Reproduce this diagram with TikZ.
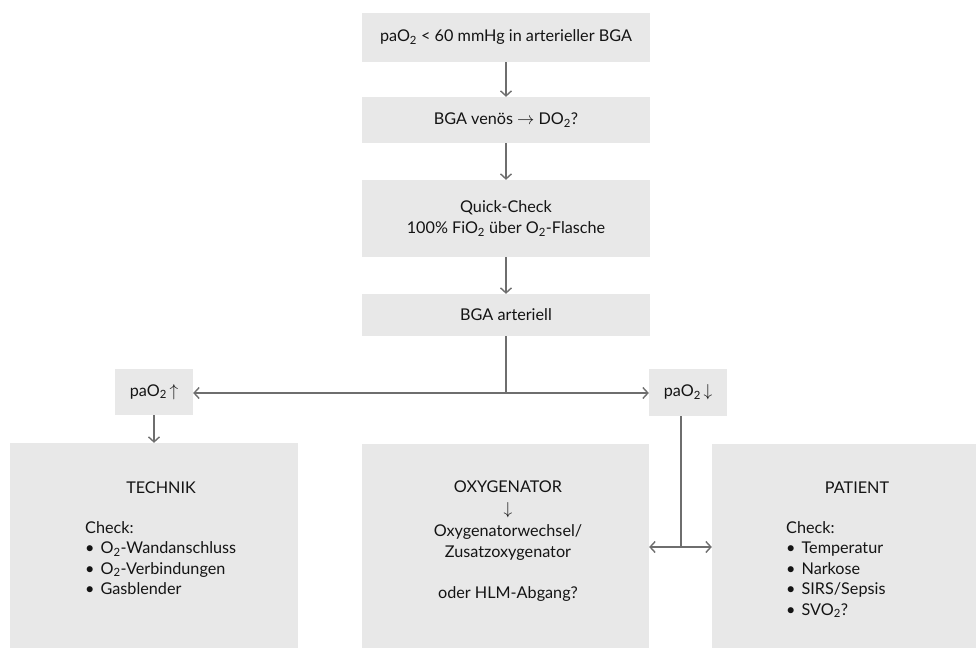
\documentclass[tikz,border=0pt]{standalone}
\usepackage{fontspec}
\setmainfont{Lato}
\usetikzlibrary{arrows.meta}
\definecolor{boxgray}{HTML}{E8E8E8}
\definecolor{linegray}{HTML}{6E6E6E}
\definecolor{txtgray}{HTML}{141414}
\newcommand{\lowtwo}{\textsubscript{2}}
\begin{document}
\begin{tikzpicture}[x=1pt,y=-1pt,
  box/.style={fill=boxgray, draw=none, inner sep=0pt, text=txtgray, align=center,
    font=\fontsize{16.2}{20.5}\selectfont},
  lbl/.style={inner sep=0pt, text=txtgray, font=\fontsize{16.2}{20.5}\selectfont},
  conn/.style={draw=linegray, line width=1.4pt, -{Straight Barb[length=5pt,width=11pt]}},
  plainline/.style={draw=linegray, line width=1.4pt}
]
\useasboundingbox (0,0) rectangle (976,648);

\node[box, minimum width=288pt, minimum height=49pt] (b1) at (506,37.5)
  {paO\lowtwo{} < 60 mmHg in arterieller BGA};
\node[box, minimum width=288pt, minimum height=46pt] (b2) at (506,120)
  {BGA venös $\rightarrow$ DO\lowtwo?};
\node[box, minimum width=288pt, minimum height=77pt] (b3) at (506,218.5)
  {Quick-Check\\100\% FiO\lowtwo{} über O\lowtwo-Flasche};
\node[box, minimum width=288pt, minimum height=42pt] (b4) at (506,315)
  {BGA arteriell};

\node[box, minimum width=78pt, minimum height=46pt] (up) at (154,392)
  {paO\lowtwo{}\,$\uparrow$};
\node[box, minimum width=78pt, minimum height=47pt] (down) at (688,392.5)
  {paO\lowtwo{}\,$\downarrow$};

\node[box, minimum width=288pt, minimum height=205pt] (tech) at (154,545.5) {};
\node[box, minimum width=287pt, minimum height=204pt] (oxy) at (505.5,546) {};
\node[box, minimum width=264pt, minimum height=204pt] (pat) at (844,546) {};

% texts in large boxes
\node[lbl, anchor=base] (techt) at (161,493) {TECHNIK};
\node[lbl, anchor=north west, align=left] (techl) at (85,521)
  {Check:\\\textbullet\hspace{6pt}O\lowtwo-Wandanschluss\\\textbullet\hspace{6pt}O\lowtwo-Verbindungen\\\textbullet\hspace{6pt}Gasblender};

\node[lbl, anchor=north, align=center] (oxyt) at (508,481)
  {OXYGENATOR\\[1.5pt]$\downarrow$\\[1.5pt]Oxygenatorwechsel/\\Zusatzoxygenator\\[20.5pt]oder HLM-Abgang?};

\node[lbl, anchor=base] (patt) at (857,493) {PATIENT};
\node[lbl, anchor=north west, align=left] (patl) at (786,521)
  {Check:\\\textbullet\hspace{6pt}Temperatur\\\textbullet\hspace{6pt}Narkose\\\textbullet\hspace{6pt}SIRS/Sepsis\\\textbullet\hspace{6pt}SVO\lowtwo?};

% connectors
\draw[conn] (b1) -- (b2);
\draw[conn] (b2) -- (b3);
\draw[conn] (b3) -- (b4);
\coordinate (j) at (506,393);
\draw[plainline] (b4.south) -- (j);
\draw[conn] (j) -- (up.east |- j);
\draw[conn] (j) -- (down.west |- j);
\draw[conn] (up) -- (tech);
\coordinate (dtop) at (681,416);
\coordinate (k) at (681,547);
\draw[plainline] (dtop) -- (k);
\draw[conn] (k) -- (oxy.east |- k);
\draw[conn] (k) -- (pat.west |- k);
\end{tikzpicture}
\end{document}
